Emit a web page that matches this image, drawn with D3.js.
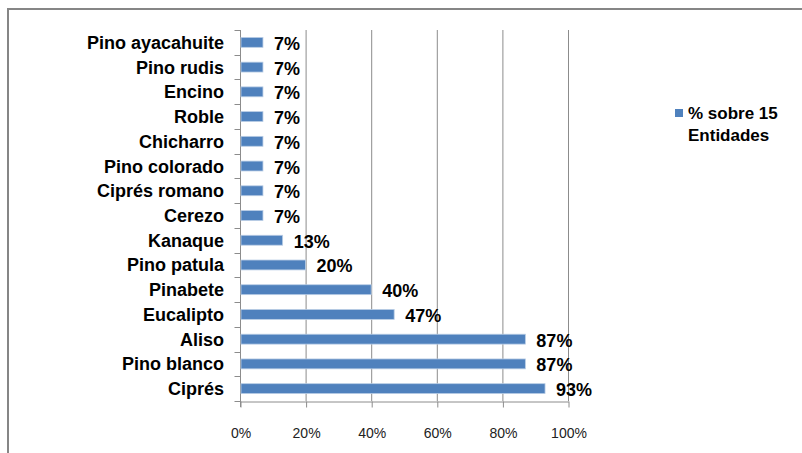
<!DOCTYPE html>
<html>
<head>
<meta charset="utf-8">
<script src="https://cdn.jsdelivr.net/npm/d3@7"></script>
<style>
  html, body { margin: 0; padding: 0; background: #fff; }
  svg { display: block; }
</style>
</head>
<body>
<svg id="chart" width="802" height="453"></svg>
<script>
// Especies reportadas (de arriba hacia abajo)
const categories = [
  "Pino ayacahuite", "Pino rudis", "Encino", "Roble", "Chicharro",
  "Pino colorado", "Ciprés romano", "Cerezo", "Kanaque", "Pino patula",
  "Pinabete", "Eucalipto", "Aliso", "Pino blanco", "Ciprés"
];
// Porcentaje de entidades que reportan cada especie
const values = [7, 7, 7, 7, 7, 7, 7, 7, 13, 20, 40, 47, 87, 87, 93];
const xTicks = [0, 20, 40, 60, 80, 100];
const seriesName = ["% sobre 15", "Entidades"];

const svg = d3.select("#chart");
const W = 802, H = 453;

// outer frame
svg.append("rect").attr("x", 8).attr("y", 9).attr("width", W + 10).attr("height", H + 10)
  .attr("fill", "#fff").attr("stroke", "#868686").attr("stroke-width", 2);

const plot = { left: 240, right: 568, top: 30, bottom: 401 };

const x = d3.scaleLinear().domain([0, 100]).range([plot.left, plot.right]);
const y = d3.scaleBand().domain(categories).range([plot.top, plot.bottom]).paddingInner(0.6).paddingOuter(0.3);
const yb = d3.scaleBand().domain(categories).range([plot.top, plot.bottom]);

// vertical gridlines
svg.append("g").selectAll("line").data(xTicks.filter(d => d > 0)).join("line")
  .attr("x1", d => x(d) + 0.5).attr("x2", d => x(d) + 0.5)
  .attr("y1", plot.top).attr("y2", plot.bottom)
  .attr("stroke", "#8c8c8c").attr("stroke-width", 1);

// x axis
const xAxis = svg.append("g").attr("transform", `translate(0.5,${plot.bottom + 0.5})`)
  .call(d3.axisBottom(x).tickValues(xTicks).tickFormat(d => d + "%").tickSize(6).tickSizeOuter(0));
xAxis.select(".domain").attr("stroke", "#8c8c8c");
xAxis.selectAll(".tick line").attr("stroke", "#8c8c8c");
xAxis.selectAll(".tick text")
  .attr("y", 27)
  .attr("font-family", "'Liberation Sans', Arial, sans-serif")
  .attr("font-size", 14).attr("fill", "#222");

// y axis with category separators
const yAxisG = svg.append("g").attr("transform", `translate(${plot.left + 0.5},0)`);
yAxisG.append("line").attr("x1", 0).attr("x2", 0).attr("y1", plot.top).attr("y2", plot.bottom + 6)
  .attr("stroke", "#8c8c8c");
const seps = categories.map(c => yb(c)).concat([plot.bottom]);
yAxisG.selectAll("line.sep").data(seps).join("line").attr("class", "sep")
  .attr("x1", -6).attr("x2", 0)
  .attr("y1", d => Math.round(d) + 0.5).attr("y2", d => Math.round(d) + 0.5)
  .attr("stroke", "#8c8c8c");

// category labels
svg.append("g").selectAll("text").data(categories).join("text")
  .attr("x", 224).attr("y", d => yb(d) + yb.bandwidth() / 2)
  .attr("dy", "0.36em").attr("text-anchor", "end")
  .attr("font-family", "'Liberation Sans', Arial, sans-serif")
  .attr("font-weight", "bold").attr("font-size", 18).attr("fill", "#000")
  .text(d => d);

// bars
const data = categories.map((c, i) => ({ c, v: values[i] }));
svg.append("g").selectAll("rect").data(data).join("rect")
  .attr("x", plot.left + 1).attr("y", d => y(d.c))
  .attr("width", d => x(d.v) - plot.left - 1).attr("height", y.bandwidth())
  .attr("fill", "#4f81bd").attr("stroke", "#b9cde5").attr("stroke-width", 0.8);

// value labels
svg.append("g").selectAll("text").data(data).join("text")
  .attr("x", d => x(d.v) + 11).attr("y", d => yb(d.c) + yb.bandwidth() / 2 + 1)
  .attr("dy", "0.36em")
  .attr("font-family", "'Liberation Sans', Arial, sans-serif")
  .attr("font-weight", "bold").attr("font-size", 18).attr("fill", "#000")
  .text(d => d.v + "%");

// legend
const lg = svg.append("g");
lg.append("rect").attr("x", 675).attr("y", 109).attr("width", 8).attr("height", 8).attr("fill", "#4f81bd");
lg.selectAll("text").data(seriesName).join("text")
  .attr("x", 688).attr("y", (d, i) => 119 + i * 22)
  .attr("font-family", "'Liberation Sans', Arial, sans-serif")
  .attr("font-weight", "bold").attr("font-size", 17).attr("fill", "#000")
  .text(d => d);
</script>
</body>
</html>
